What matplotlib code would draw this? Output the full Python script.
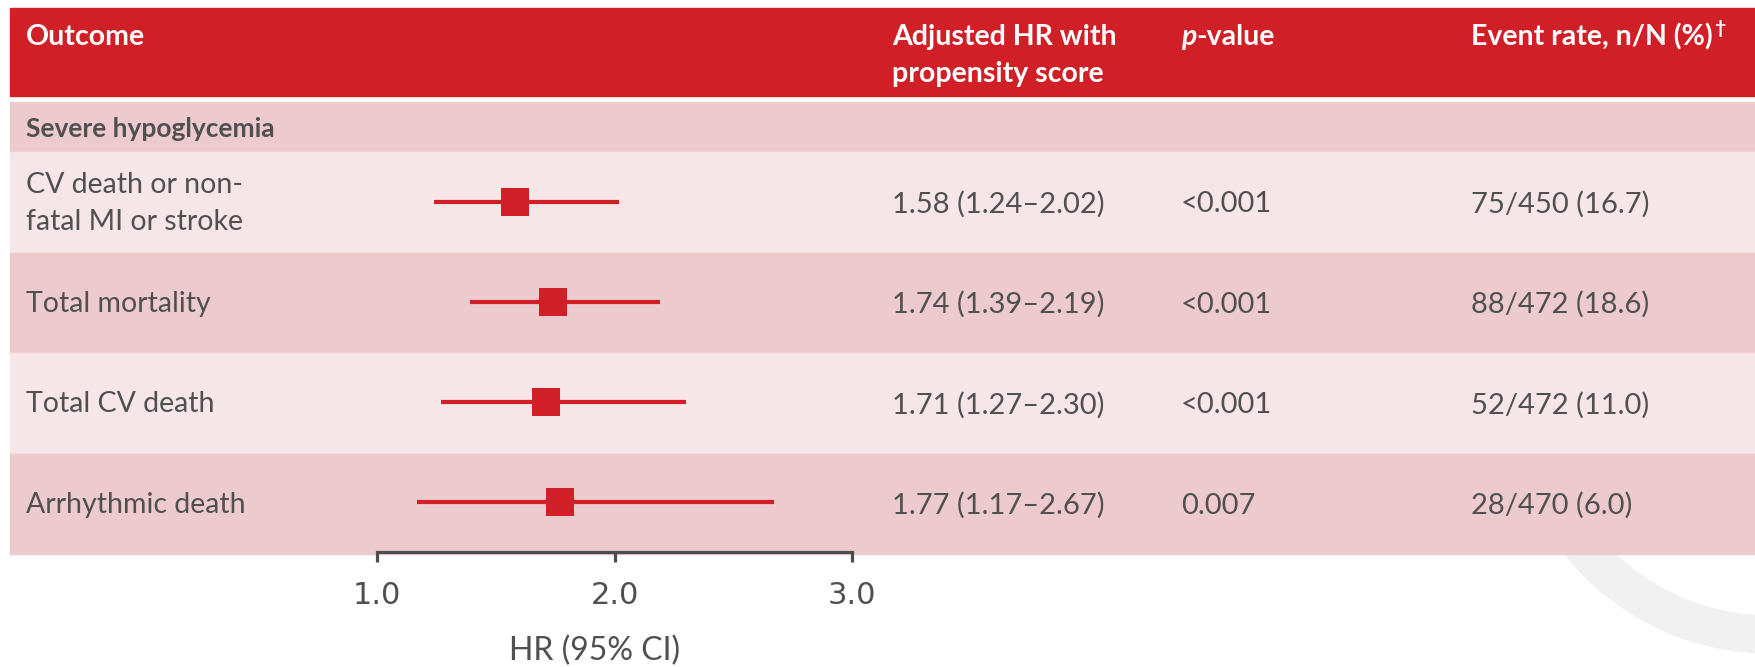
import matplotlib
matplotlib.use("Agg")
import matplotlib.pyplot as plt
from matplotlib.patches import Rectangle, Annulus

# Forest plot data: severe hypoglycemia and subsequent outcomes
outcomes = ["CV death or non-\nfatal MI or stroke", "Total mortality",
            "Total CV death", "Arrhythmic death"]
hr = [1.58, 1.74, 1.71, 1.77]
ci_low = [1.24, 1.39, 1.27, 1.17]
ci_high = [2.02, 2.19, 2.30, 2.67]
p_values = ["<0.001", "<0.001", "<0.001", "0.007"]
event_rates = ["75/450 (16.7)", "88/472 (18.6)", "52/472 (11.0)", "28/470 (6.0)"]
group_label = "Severe hypoglycemia"
x_ticks = [1.0, 2.0, 3.0]

RED = "#d01f26"
BAND_DARK = "#edcacd"
BAND_LIGHT = "#f6e6e7"
TEXT = "#505050"
FONT = "Lato"

W, H = 1755, 667
fig = plt.figure(figsize=(W / 100, H / 100), dpi=100)

# background layer in pixel units (y grows downward)
bg = fig.add_axes([0, 0, 1, 1])
bg.set_xlim(0, W)
bg.set_ylim(H, 0)
bg.axis("off")

left = 10
header_top, header_bot = 8, 96
group_top, group_bot = 102, 152
row_top, row_h = 152, 100.5

# faint decorative ring in the lower right corner
bg.add_patch(Annulus((1770, 391), 262, 37, color="#f1f1f1", zorder=0))

bg.add_patch(Rectangle((left, header_top), W - left, header_bot - header_top,
                       color=RED, zorder=1))
bg.add_patch(Rectangle((left, group_top), W - left, group_bot - group_top,
                       color=BAND_DARK, zorder=1))
for i in range(len(outcomes)):
    bg.add_patch(Rectangle((left, row_top + i * row_h), W - left, row_h,
                           color=BAND_LIGHT if i % 2 == 0 else BAND_DARK, zorder=1))

col_x = [26, 892, 1181, 1471]
hsize = 20.5
hdr = dict(color="white", fontsize=hsize, fontweight="bold", family=FONT,
           va="baseline", zorder=3)
bg.text(col_x[0], 45, "Outcome", **hdr)
bg.text(col_x[1], 45, "Adjusted HR with", **hdr)
bg.text(col_x[1], 82, "propensity score", **hdr)
p_txt = bg.text(col_x[2], 45, "p", style="italic", **hdr)
bg.annotate("-value", xy=(1, 0), xycoords=p_txt, va="bottom", ha="left",
            color="white", fontsize=hsize, fontweight="bold", family=FONT)
ev_txt = bg.text(col_x[3], 45, "Event rate, n/N (%)", **hdr)
bg.annotate("\u2020", xy=(1, 1), xycoords=ev_txt, xytext=(1.5, 2),
            textcoords="offset points", va="top", ha="left",
            color="white", fontsize=14, fontweight="bold", family=FONT)

bg.text(col_x[0], 137, group_label, color=TEXT, fontsize=19, fontweight="bold",
        family=FONT, va="baseline", zorder=3)

for i in range(len(outcomes)):
    yc = row_top + (i + 0.5) * row_h
    bg.text(col_x[0], yc + 1, outcomes[i], color=TEXT, fontsize=20.5, family=FONT,
            va="center", linespacing=1.52, zorder=3)
    hr_label = f"{hr[i]:.2f} ({ci_low[i]:.2f}\u2013{ci_high[i]:.2f})"
    bg.text(col_x[1], yc + 2, hr_label, color=TEXT, fontsize=21, family=FONT,
            va="center", zorder=3)
    bg.text(col_x[2], yc + 2, p_values[i], color=TEXT, fontsize=21, family=FONT,
            va="center", zorder=3)
    bg.text(col_x[3], yc + 2, event_rates[i], color=TEXT, fontsize=21, family=FONT,
            va="center", zorder=3)

bg.text(595, 660, "HR (95% CI)", color=TEXT, fontsize=23, family=FONT,
        ha="center", va="baseline")

# forest axes: 1.0 -> 3.0 spans pixels 377..852, rows span 152..552
ax = fig.add_axes([377 / W, 1 - 552 / H, (852 - 377) / W, 400 / H])
ax.patch.set_alpha(0)
ax.set_zorder(2)
ax.set_xlim(1.0, 3.0)
ax.set_ylim(len(outcomes) - 0.5, -0.5)
ys = list(range(len(outcomes)))
xerr = [[h - l for h, l in zip(hr, ci_low)], [u - h for h, u in zip(hr, ci_high)]]
ax.errorbar(hr, ys, xerr=xerr, fmt="s", color=RED, ms=19.5, mew=0,
            elinewidth=3, capsize=5, capthick=2.8, clip_on=False)

for side in ["top", "right", "left"]:
    ax.spines[side].set_visible(False)
ax.spines["bottom"].set_color("#4d4d4d")
ax.spines["bottom"].set_linewidth(2.3)
ax.set_yticks([])
ax.set_xticks(x_ticks)
ax.set_xticklabels([f"{t:.1f}" for t in x_ticks])
ax.tick_params(axis="x", direction="out", length=7, width=2.3, color="#4d4d4d",
               pad=14, labelsize=22, labelcolor=TEXT)
for lab in ax.get_xticklabels():
    lab.set_family("DejaVu Sans")

fig.savefig("out.png", dpi=100)
